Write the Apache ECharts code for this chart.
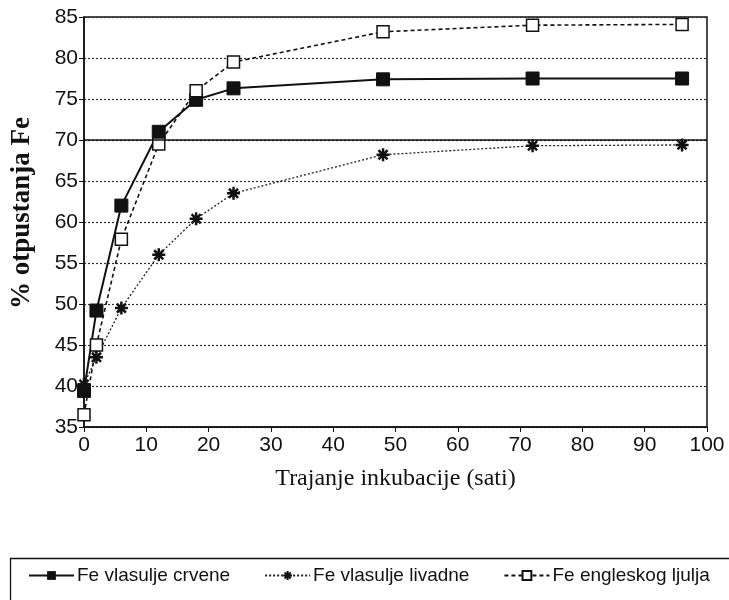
<!DOCTYPE html>
<html><head><meta charset="utf-8">
<script src="https://cdn.jsdelivr.net/npm/echarts@6/dist/echarts.min.js"></script>
<style>html,body{margin:0;padding:0;background:#fff}#c{width:729px;height:600px}</style>
</head><body><div id="c"></div>
<script>
const hours = [0, 2, 6, 12, 18, 24, 48, 72, 96];
const crvene = [39.4, 49.2, 62.0, 71.0, 74.9, 76.3, 77.4, 77.5, 77.5];
const livadne = [40.2, 43.5, 49.5, 56.0, 60.4, 63.5, 68.2, 69.3, 69.4];
const engleskog = [36.5, 45.0, 57.9, 69.5, 76.0, 79.5, 83.2, 84.0, 84.1];
const seriesNames = ['Fe vlasulje crvene', 'Fe vlasulje livadne', 'Fe engleskog ljulja'];
const xTicks = {min: 0, max: 100, interval: 10};
const yTicks = {min: 35, max: 85, interval: 5};
const highlightLine = 70;

const pair = (vals) => hours.map((h, i) => [h, vals[i]]);
const sans = "'Liberation Sans', Arial, sans-serif";
const serif = "'Liberation Serif', 'DejaVu Serif', serif";
const chart = echarts.init(document.getElementById('c'), null, {renderer: 'canvas'});
chart.setOption({
  animation: false,
  backgroundColor: '#fff',
  grid: {left: 84, right: 22, top: 17, bottom: 173, show: true, borderColor: '#111', borderWidth: 1.5, backgroundColor: 'transparent'},
  graphic: [{
    type: 'rect', left: 8, top: 556, silent: true,
    shape: {width: 740, height: 60},
    style: {fill: 'none', stroke: '#111', lineWidth: 1.3}
  }],
  xAxis: {
    type: 'value', min: xTicks.min, max: xTicks.max, interval: xTicks.interval,
    name: 'Trajanje inkubacije (sati)', nameLocation: 'middle', nameGap: 40,
    nameTextStyle: {fontFamily: serif, fontSize: 24, color: '#111'},
    axisLine: {lineStyle: {color: '#111', width: 1.5}},
    axisTick: {show: true, inside: false, length: 5, lineStyle: {color: '#111'}},
    axisLabel: {fontFamily: sans, fontSize: 21, color: '#111', margin: 8},
    splitLine: {show: false}
  },
  yAxis: {
    type: 'value', min: yTicks.min, max: yTicks.max, interval: yTicks.interval,
    name: '% otpustanja Fe', nameLocation: 'middle', nameGap: 48,
    nameTextStyle: {fontFamily: serif, fontSize: 27, fontWeight: 'bold', color: '#111', padding: [0, 0, 0, 18]},
    axisLine: {lineStyle: {color: '#111', width: 1.5}},
    axisTick: {show: true, inside: false, length: 5, lineStyle: {color: '#111'}},
    axisLabel: {fontFamily: sans, fontSize: 21, color: '#111', margin: 6},
    splitLine: {show: true, lineStyle: {color: '#333', type: [2, 2], width: 1.2}}
  },
  legend: {
    left: 28, top: 566,
    padding: 0,
    itemGap: 34, itemWidth: 45, itemHeight: 11,
    textStyle: {fontFamily: sans, fontSize: 19, color: '#111', padding: [0, 0, 0, -2]},
    data: seriesNames
  },
  series: [
    {
      name: seriesNames[0], type: 'line', data: pair(crvene),
      symbol: 'rect', symbolSize: 13,
      lineStyle: {color: '#111', width: 2, type: 'solid'},
      itemStyle: {color: '#111', borderColor: '#111'},
      markLine: {silent: true, symbol: ['none', 'none'], label: {show: false},
        lineStyle: {color: '#111', width: 1.6, type: 'solid'},
        data: [{yAxis: highlightLine}]}
    },
    {
      name: seriesNames[1], type: 'line', data: pair(livadne),
      symbol: 'path://M0,-10L0,10M-10,0L10,0M-7,-7L7,7M-7,7L7,-7', symbolSize: 13,
      lineStyle: {color: '#222', width: 1.3, type: [2, 2]},
      itemStyle: {color: '#111', borderColor: '#111', borderWidth: 2.5}
    },
    {
      name: seriesNames[2], type: 'line', data: pair(engleskog),
      symbol: 'rect', symbolSize: 12,
      lineStyle: {color: '#111', width: 1.6, type: [4, 3]},
      itemStyle: {color: '#fff', borderColor: '#111', borderWidth: 1.5}
    }
  ]
});
</script></body></html>
